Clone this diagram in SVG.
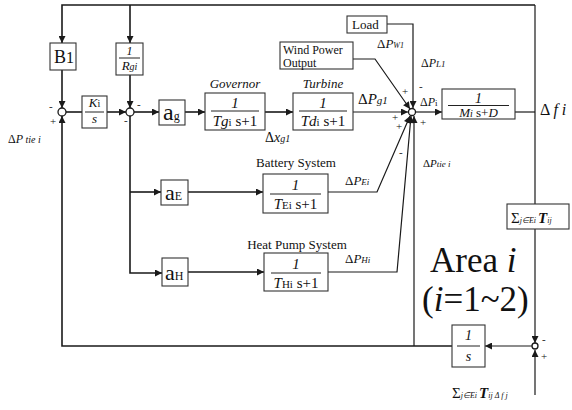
<svg xmlns="http://www.w3.org/2000/svg" width="572" height="410" viewBox="0 0 572 410">
<style>
text{font-family:"Liberation Serif","Times New Roman",serif;fill:#111}
.it{font-style:italic}
.box{fill:#fff;stroke:#333;stroke-width:1.1}
.ln{fill:none;stroke:#1a1a1a;stroke-width:1.6}
.tl{fill:none;stroke:#1a1a1a;stroke-width:1.2}
.fr{stroke:#222;stroke-width:1}
.sum{fill:#fff;stroke:#1a1a1a;stroke-width:1.3}
.sg{font-size:11px}
</style>
<defs>
<marker id="ah" viewBox="0 0 10 10" refX="10" refY="5" markerWidth="9" markerHeight="7" markerUnits="userSpaceOnUse" orient="auto"><path d="M0,0 L10,5 L0,10 z" fill="#1a1a1a"/></marker>
</defs>
<g id="connectors">
<path class="ln" d="M535,5 H62 V43" marker-end="url(#ah)"/>
<path class="ln" d="M130,5 V43" marker-end="url(#ah)"/>
<path class="tl" d="M535,5 V343" marker-end="url(#ah)"/>
<path class="ln" d="M62,70 V108" marker-end="url(#ah)"/>
<path class="ln" d="M130,75 V108" marker-end="url(#ah)"/>
<path class="ln" d="M66,112 H82"/>
<path class="ln" d="M107,112 H126" marker-end="url(#ah)"/>
<path class="ln" d="M134,112 H159" marker-end="url(#ah)"/>
<path class="ln" d="M185,112 H205" marker-end="url(#ah)"/>
<path class="ln" d="M265,112 H293" marker-end="url(#ah)"/>
<path class="tl" d="M353,112 H408" marker-end="url(#ah)"/>
<path class="tl" d="M416,112 H442" marker-end="url(#ah)"/>
<path class="tl" d="M515,112 H535"/>
<path class="tl" d="M387,24 H413 V108" marker-end="url(#ah)"/>
<path class="tl" d="M353,59 H375 L410,109" marker-end="url(#ah)"/>
<path class="tl" d="M328,192 H377 L410,116" marker-end="url(#ah)"/>
<path class="tl" d="M328,272 H397 L411,116" marker-end="url(#ah)"/>
<path class="tl" d="M414,346 V116" marker-end="url(#ah)"/>
<path class="ln" d="M130,116 V273 H162" marker-end="url(#ah)"/>
<path class="ln" d="M130,192 H161" marker-end="url(#ah)"/>
<path class="ln" d="M188,192 H263" marker-end="url(#ah)"/>
<path class="ln" d="M188,272 H264" marker-end="url(#ah)"/>
<path class="ln" d="M452,346 H62 V116" marker-end="url(#ah)"/>
<path class="tl" d="M532,346 H485" marker-end="url(#ah)"/>
<path class="tl" d="M535,395 V350" marker-end="url(#ah)"/>
</g>
<g id="sum1"><circle class="sum" cx="62" cy="112" r="4"/><text class="sg" x="49" y="110">-</text><text class="sg" x="50" y="125">+</text></g>
<g id="sum2"><circle class="sum" cx="130" cy="112" r="4"/><text class="sg" x="137" y="108">-</text><text class="sg" x="124" y="124">-</text></g>
<g id="sum3"><circle class="sum" cx="412" cy="112" r="3.5"/>
<text class="sg" x="402" y="95">+</text><text class="sg" x="419" y="90">-</text><text class="sg" x="392" y="121">+</text><text class="sg" x="396" y="130">+</text><text class="sg" x="420" y="126">+</text><text class="sg" x="399" y="156">-</text></g>
<g id="sum4"><circle class="sum" cx="535" cy="346" r="3"/><text class="sg" x="542" y="343">-</text><text class="sg" x="541" y="360">+</text></g>
<g id="B1"><rect class="box" x="50" y="43" width="26" height="27"/><text x="54" y="63" font-size="18">B<tspan font-size="16">1</tspan></text></g>
<g id="Rgi"><rect class="box" x="116" y="43" width="27" height="32"/><text class="it" x="129.5" y="55" font-size="12" text-anchor="middle">1</text><line class="fr" x1="119" y1="58" x2="140" y2="58"/><text class="it" x="129.5" y="70" font-size="13" text-anchor="middle">R<tspan font-size="10">gi</tspan></text></g>
<g id="Ki"><rect class="box" x="82" y="96" width="25" height="32"/><text class="it" x="94.5" y="107" font-size="13" text-anchor="middle">K<tspan font-style="normal" font-size="10">i</tspan></text><line class="fr" x1="85" y1="112" x2="104" y2="112"/><text class="it" x="94.5" y="123" font-size="13" text-anchor="middle">s</text></g>
<g id="ag"><rect class="box" x="159" y="100" width="26" height="25"/><text x="163" y="120" font-size="24">a<tspan font-size="12">g</tspan></text></g>
<g id="governor"><text class="it" x="235" y="88" font-size="13" text-anchor="middle">Governor</text><rect class="box" x="205" y="93" width="60" height="37"/><text class="it" x="235" y="108" font-size="15" text-anchor="middle">1</text><line class="fr" x1="211" y1="111" x2="259" y2="111"/><text x="235" y="126" font-size="15" text-anchor="middle"><tspan class="it">Tg</tspan><tspan font-size="11">i</tspan> s+1</text></g>
<g id="turbine"><text class="it" x="323" y="88" font-size="13" text-anchor="middle">Turbine</text><rect class="box" x="293" y="93" width="60" height="37"/><text class="it" x="323" y="108" font-size="15" text-anchor="middle">1</text><line class="fr" x1="299" y1="111" x2="347" y2="111"/><text x="323" y="126" font-size="15" text-anchor="middle"><tspan class="it">Td</tspan><tspan font-size="11">i</tspan> s+1</text></g>
<g id="load"><rect class="box" x="347" y="16" width="40" height="17"/><text x="352" y="29" font-size="13">Load</text></g>
<g id="wind"><rect class="box" x="280" y="42" width="73" height="27"/><text x="283" y="54" font-size="12">Wind Power</text><text x="283" y="66.5" font-size="12">Output</text></g>
<g id="Mi"><rect class="box" x="442" y="89" width="73" height="30"/><text class="it" x="478.5" y="103" font-size="14" text-anchor="middle">1</text><line class="fr" x1="448" y1="105.5" x2="509" y2="105.5"/><text x="478.5" y="117" font-size="13" text-anchor="middle"><tspan class="it">M</tspan><tspan class="it" font-size="10">i</tspan> s+<tspan class="it">D</tspan></text></g>
<g id="aE"><rect class="box" x="161" y="180" width="27" height="25"/><text x="165" y="200" font-size="22">a<tspan font-size="12">E</tspan></text></g>
<g id="aH"><rect class="box" x="162" y="258" width="26" height="28"/><text x="165" y="280" font-size="22">a<tspan font-size="12">H</tspan></text></g>
<g id="battery"><text x="296" y="167" font-size="13" text-anchor="middle">Battery System</text><rect class="box" x="263" y="174" width="65" height="39"/><text class="it" x="295.5" y="190" font-size="15" text-anchor="middle">1</text><line class="fr" x1="270" y1="194" x2="321" y2="194"/><text x="295.5" y="209" font-size="15" text-anchor="middle"><tspan class="it">T</tspan><tspan font-size="11">Ei</tspan> s+1</text></g>
<g id="heatpump"><text x="297" y="249" font-size="13" text-anchor="middle">Heat Pump System</text><rect class="box" x="264" y="253" width="64" height="38"/><text class="it" x="296" y="269" font-size="15" text-anchor="middle">1</text><line class="fr" x1="271" y1="273" x2="321" y2="273"/><text x="296" y="288" font-size="15" text-anchor="middle"><tspan class="it">T</tspan><tspan font-size="11">Hi</tspan> s+1</text></g>
<g id="sigmaT"><rect class="box" x="507" y="204" width="62" height="25"/><text x="511" y="223" font-size="15">Σ<tspan class="it" font-size="8">j∈Ei </tspan><tspan class="it" font-weight="bold" font-size="15">T</tspan><tspan class="it" font-size="8">ij</tspan></text></g>
<g id="integrator"><rect class="box" x="452" y="325" width="33" height="42"/><text class="it" x="468.5" y="340" font-size="14" text-anchor="middle">1</text><line class="fr" x1="457" y1="346" x2="480" y2="346"/><text class="it" x="468.5" y="361" font-size="14" text-anchor="middle">s</text></g>
<g id="labels">
<text x="358" y="104" font-size="15">Δ<tspan class="it">P</tspan><tspan class="it" font-size="11">g1</tspan></text>
<text x="377" y="48" font-size="13">Δ<tspan class="it">P</tspan><tspan class="it" font-size="8">W1</tspan></text>
<text x="421" y="67" font-size="12">Δ<tspan class="it">P</tspan><tspan class="it" font-size="9">L1</tspan></text>
<text x="420" y="106" font-size="12">Δ<tspan class="it">P</tspan><tspan font-size="9">i</tspan></text>
<text x="540" y="115" font-size="16">Δ <tspan class="it">f i</tspan></text>
<text x="265" y="142" font-size="14">Δ<tspan class="it">x</tspan><tspan class="it" font-size="10">g1</tspan></text>
<text x="345" y="185" font-size="13">Δ<tspan class="it">P</tspan><tspan class="it" font-size="9">Ei</tspan></text>
<text x="345" y="263" font-size="13">Δ<tspan class="it">P</tspan><tspan class="it" font-size="9">Hi</tspan></text>
<text x="8" y="143" font-size="12">Δ<tspan class="it">P</tspan><tspan class="it" font-size="10"> tie i</tspan></text>
<text x="423" y="167" font-size="11">Δ<tspan class="it">P</tspan><tspan class="it" font-size="9">tie i</tspan></text>
<text x="430" y="272" font-size="35">Area <tspan class="it">i</tspan></text>
<text x="422" y="311" font-size="35">(<tspan class="it">i</tspan>=1~2)</text>
<text x="452" y="398" font-size="15">Σ<tspan class="it" font-size="8">j∈Ei </tspan><tspan class="it" font-weight="bold" font-size="15">T</tspan><tspan class="it" font-size="8">ij Δ f j</tspan></text>
</g>
</svg>
